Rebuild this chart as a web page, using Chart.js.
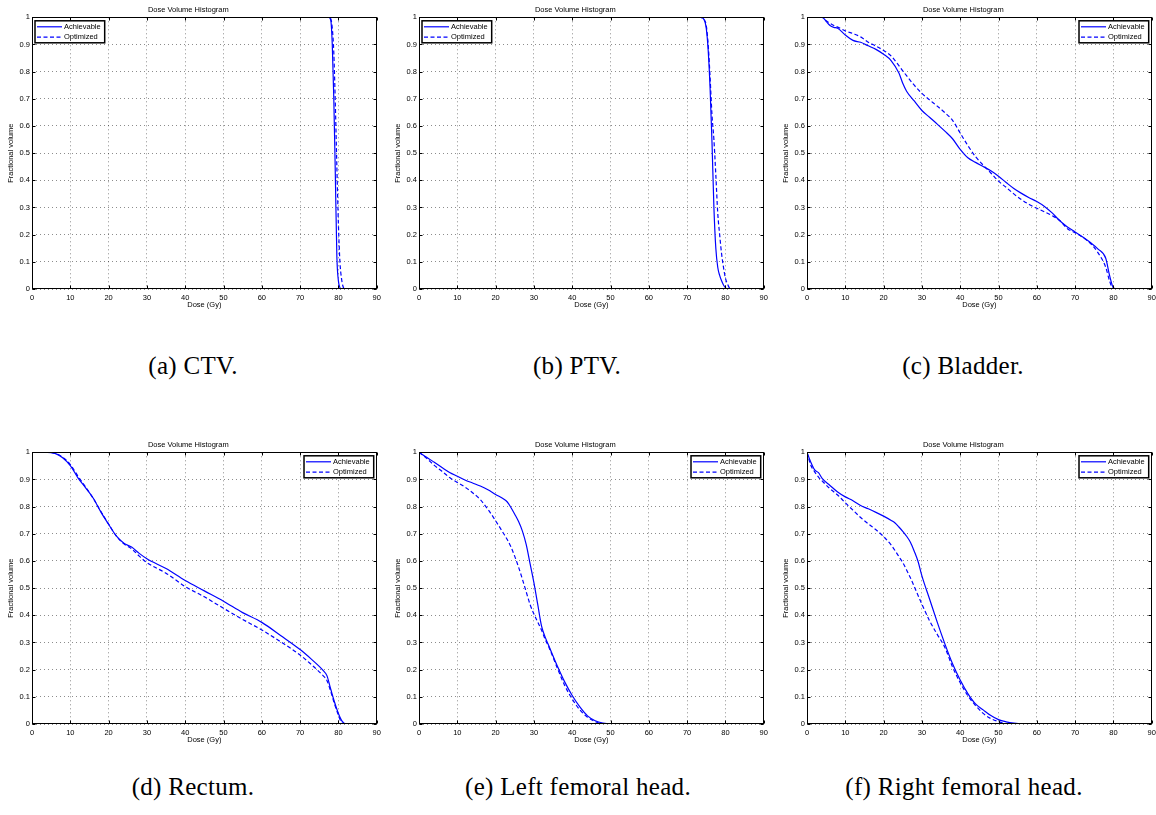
<!DOCTYPE html>
<html>
<head>
<meta charset="utf-8">
<script src="https://cdn.jsdelivr.net/npm/chart.js@4.4.0/dist/chart.umd.min.js"></script>
<style>
  body { margin: 0; background: #fff; width: 1156px; height: 815px; overflow: hidden; position: relative; }
  canvas { position: absolute; }
  .cap { position: absolute; width: 386px; text-align: center; font-family: "Liberation Serif", serif; font-size: 25px; letter-spacing: 0.3px; line-height: 28px; color: #000; }
</style>
</head>
<body>
<canvas id="ctv" width="381" height="310" style="left:0;top:0"></canvas>
<canvas id="ptv" width="381" height="310" style="left:387px;top:0"></canvas>
<canvas id="bladder" width="381" height="310" style="left:775px;top:0"></canvas>
<canvas id="rectum" width="381" height="310" style="left:0;top:435px"></canvas>
<canvas id="leftfem" width="381" height="310" style="left:387px;top:435px"></canvas>
<canvas id="rightfem" width="381" height="310" style="left:775px;top:435px"></canvas>

<div class="cap" style="left:0;top:352px">(a) CTV.</div>
<div class="cap" style="left:384px;top:352px">(b) PTV.</div>
<div class="cap" style="left:770px;top:352px">(c) Bladder.</div>
<div class="cap" style="left:0;top:773px">(d) Rectum.</div>
<div class="cap" style="left:385px;top:773px">(e) Left femoral head.</div>
<div class="cap" style="left:771px;top:773px">(f) Right femoral head.</div>

<script>
const doseTicks = [0, 10, 20, 30, 40, 50, 60, 70, 80, 90];
const volumeTicks = [0, 0.1, 0.2, 0.3, 0.4, 0.5, 0.6, 0.7, 0.8, 0.9, 1];
const seriesNames = ['Achievable', 'Optimized'];

// (a) CTV
const ctvDose = [0, 77.5, 78, 78.4, 78.8, 79.2, 79.6, 80, 80.4, 80.8, 81.2, 81.6, 82, 85];
const ctvAchievable = [1, 1, 0.99, 0.9, 0.7, 0.42, 0.12, 0.03, 0.005, 0, 0, 0, 0, 0];
const ctvOptimized = [1, 1, 0.995, 0.96, 0.87, 0.68, 0.45, 0.24, 0.1, 0.04, 0.01, 0, 0, 0];

// (b) PTV
const ptvDose = [0, 73.5, 74.5, 75, 75.5, 76, 76.5, 77, 77.5, 78, 78.5, 79, 79.5, 80, 80.5, 81, 81.5, 85];
const ptvAchievable = [1, 1, 0.99, 0.96, 0.88, 0.74, 0.54, 0.3, 0.15, 0.08, 0.05, 0.03, 0.015, 0.005, 0, 0, 0, 0];
const ptvOptimized = [1, 1, 0.99, 0.97, 0.9, 0.78, 0.64, 0.55, 0.42, 0.28, 0.2, 0.13, 0.08, 0.04, 0.02, 0.005, 0, 0];

// (c) Bladder
const bladderDose = [0, 4, 5, 6, 7, 8, 10, 12, 14, 16, 18, 20, 22, 24, 25, 26, 28, 30, 32, 34, 36, 38, 40, 42, 44, 46, 48, 50, 52, 54, 56, 58, 60, 62, 64, 66, 68, 70, 72, 74, 76, 78, 79, 80, 81, 85];
const bladderAchievable = [1, 1, 0.985, 0.97, 0.963, 0.96, 0.935, 0.915, 0.908, 0.895, 0.882, 0.864, 0.84, 0.795, 0.757, 0.728, 0.692, 0.657, 0.632, 0.607, 0.581, 0.553, 0.514, 0.483, 0.466, 0.451, 0.435, 0.415, 0.392, 0.37, 0.352, 0.336, 0.322, 0.304, 0.28, 0.251, 0.228, 0.21, 0.191, 0.171, 0.147, 0.113, 0.05, 0.005, 0, 0];
const bladderOptimized = [1, 1, 0.987, 0.978, 0.97, 0.964, 0.95, 0.94, 0.928, 0.908, 0.894, 0.878, 0.857, 0.822, 0.803, 0.785, 0.75, 0.72, 0.696, 0.673, 0.649, 0.621, 0.574, 0.528, 0.487, 0.456, 0.427, 0.397, 0.374, 0.35, 0.329, 0.311, 0.297, 0.284, 0.27, 0.252, 0.222, 0.207, 0.19, 0.168, 0.133, 0.08, 0.03, 0, 0, 0];

// (d) Rectum
const rectumDose = [0, 4, 6, 8, 10, 12, 14, 16, 18, 20, 22, 24, 26, 28, 30, 35, 40, 45, 50, 55, 60, 65, 70, 73, 75, 76, 77, 78, 79, 80, 81, 82, 85];
const rectumAchievable = [1, 1, 0.996, 0.98, 0.951, 0.906, 0.869, 0.831, 0.78, 0.735, 0.692, 0.665, 0.651, 0.628, 0.608, 0.572, 0.528, 0.49, 0.452, 0.41, 0.374, 0.325, 0.274, 0.238, 0.212, 0.197, 0.178, 0.128, 0.08, 0.039, 0.01, 0, 0];
const rectumOptimized = [1, 1, 0.996, 0.982, 0.955, 0.912, 0.872, 0.83, 0.782, 0.736, 0.692, 0.663, 0.645, 0.618, 0.594, 0.555, 0.506, 0.468, 0.426, 0.385, 0.346, 0.302, 0.254, 0.218, 0.192, 0.178, 0.16, 0.12, 0.073, 0.033, 0.002, 0, 0];

// (e) Left femoral head
const leftDose = [0, 2, 4, 6, 8, 10, 12, 14, 16, 18, 20, 22, 23, 24, 25, 26, 27, 28, 29, 30, 31, 32, 33, 34, 36, 38, 40, 42, 44, 46, 48, 50, 85];
const leftAchievable = [1, 0.982, 0.963, 0.944, 0.926, 0.912, 0.898, 0.887, 0.876, 0.862, 0.845, 0.829, 0.818, 0.797, 0.772, 0.745, 0.71, 0.66, 0.59, 0.52, 0.44, 0.36, 0.318, 0.284, 0.217, 0.156, 0.105, 0.063, 0.03, 0.012, 0.003, 0, 0];
const leftOptimized = [1, 0.978, 0.952, 0.93, 0.907, 0.889, 0.872, 0.851, 0.826, 0.79, 0.748, 0.703, 0.68, 0.652, 0.617, 0.577, 0.533, 0.486, 0.44, 0.405, 0.375, 0.345, 0.31, 0.28, 0.21, 0.143, 0.092, 0.052, 0.025, 0.009, 0, 0, 0];

// (f) Right femoral head
const rightDose = [0, 1, 2, 3, 4, 6, 8, 10, 12, 14, 16, 18, 20, 22, 23, 24, 25, 26, 27, 28, 29, 30, 32, 34, 36, 38, 40, 42, 44, 46, 48, 50, 52, 54, 56, 85];
const rightAchievable = [1, 0.963, 0.935, 0.925, 0.903, 0.878, 0.854, 0.836, 0.822, 0.804, 0.792, 0.779, 0.765, 0.749, 0.74, 0.725, 0.709, 0.691, 0.669, 0.636, 0.598, 0.545, 0.46, 0.375, 0.295, 0.222, 0.162, 0.112, 0.074, 0.052, 0.031, 0.016, 0.008, 0.003, 0.0005, 0];
const rightOptimized = [1, 0.952, 0.928, 0.909, 0.894, 0.866, 0.843, 0.814, 0.787, 0.76, 0.737, 0.715, 0.69, 0.658, 0.638, 0.616, 0.594, 0.567, 0.538, 0.506, 0.473, 0.441, 0.38, 0.33, 0.282, 0.21, 0.152, 0.104, 0.068, 0.039, 0.02, 0.009, 0.001, 0, 0, 0];

const FONT = '"Liberation Sans", Arial, sans-serif';
const BLUE = '#0000ff';

// black box round the axes, with inward ticks on all four sides
const axesFrame = {
  id: 'axesFrame',
  afterDraw(chart) {
    const { ctx, chartArea: a, scales: { x, y } } = chart;
    const l = Math.round(a.left) + 0.5, r = Math.round(a.right) - 0.5;
    const t = Math.round(a.top) + 0.5, b = Math.round(a.bottom) - 0.5;
    ctx.save();
    ctx.strokeStyle = '#000';
    ctx.lineWidth = 1;
    ctx.strokeRect(l, t, r - l, b - t);
    ctx.beginPath();
    for (const v of doseTicks) {
      const px = Math.round(x.getPixelForValue(v)) + 0.5;
      ctx.moveTo(px, b); ctx.lineTo(px, b - 3);
      ctx.moveTo(px, t); ctx.lineTo(px, t + 3);
    }
    for (const v of volumeTicks) {
      const py = Math.round(y.getPixelForValue(v)) + 0.5;
      ctx.moveTo(l, py); ctx.lineTo(l + 3, py);
      ctx.moveTo(r, py); ctx.lineTo(r - 3, py);
    }
    ctx.stroke();
    ctx.restore();
  }
};

// MATLAB style legend box inside the axes
const boxLegend = {
  id: 'boxLegend',
  afterDraw(chart, args, opts) {
    const { ctx, chartArea: a } = chart;
    const sets = chart.data.datasets;
    ctx.save();
    ctx.font = '7.5px ' + FONT;
    const tw = Math.max(...sets.map(d => ctx.measureText(d.label).width));
    const w = 2 + 25 + 2 + tw + 4, h = 22;
    const bx = opts.corner === 'left' ? a.left + 3 : a.right - 3 - w;
    const by = a.top + 3.5;
    ctx.fillStyle = '#fff';
    ctx.fillRect(bx, by, w, h);
    ctx.strokeStyle = '#000';
    ctx.lineWidth = 1.5;
    ctx.strokeRect(bx, by, w, h);
    sets.forEach((d, i) => {
      const yy = by + 6 + i * 10.3;
      ctx.strokeStyle = d.borderColor;
      ctx.lineWidth = d.borderWidth;
      ctx.setLineDash(d.borderDash || []);
      ctx.beginPath();
      ctx.moveTo(bx + 2, yy);
      ctx.lineTo(bx + 27, yy);
      ctx.stroke();
      ctx.setLineDash([]);
      ctx.fillStyle = '#000';
      ctx.textBaseline = 'middle';
      ctx.fillText(d.label, bx + 29, yy);
    });
    ctx.restore();
  }
};

function makeChart(id, dose, achievable, optimized, corner) {
  const pts = vals => dose.map((d, i) => ({ x: d, y: vals[i] }));
  return new Chart(document.getElementById(id), {
    type: 'line',
    data: {
      datasets: [
        { label: seriesNames[0], data: pts(achievable), borderColor: BLUE, borderWidth: 1.2, pointRadius: 0, cubicInterpolationMode: 'monotone' },
        { label: seriesNames[1], data: pts(optimized), borderColor: BLUE, borderWidth: 1.2, borderDash: [4, 2.5], pointRadius: 0, cubicInterpolationMode: 'monotone' }
      ]
    },
    options: {
      responsive: false,
      animation: false,
      layout: { padding: { left: 0, right: 4.3, top: 0, bottom: 0 } },
      plugins: {
        legend: { display: false },
        tooltip: { enabled: false },
        title: {
          display: true,
          text: 'Dose Volume Histogram',
          color: '#000',
          font: { family: FONT, size: 7.5, weight: 'normal' },
          padding: { top: 5, bottom: 3.3 }
        },
        boxLegend: { corner: corner }
      },
      scales: {
        x: {
          type: 'linear',
          min: 0, max: 90,
          afterBuildTicks: s => { s.ticks = doseTicks.map(v => ({ value: v })); },
          afterFit: s => { s.height = 21; s.paddingLeft = 0; s.paddingRight = 0; },
          grid: { color: 'rgba(0,0,0,0.45)', drawTicks: false, lineWidth: 1 },
          border: { display: false, dash: [1, 3] },
          ticks: { color: '#000', font: { family: FONT, size: 7.5 }, padding: 4, maxRotation: 0, callback: v => String(v) },
          title: { display: true, text: 'Dose (Gy)', color: '#000', font: { family: FONT, size: 7.5 }, padding: { top: 0, bottom: 0.5 } }
        },
        y: {
          type: 'linear',
          min: 0, max: 1,
          afterBuildTicks: s => { s.ticks = volumeTicks.map(v => ({ value: v })); },
          afterFit: s => { s.width = 32; s.paddingTop = 0; s.paddingBottom = 0; },
          grid: { color: 'rgba(0,0,0,0.45)', drawTicks: false, lineWidth: 1 },
          border: { display: false, dash: [1, 3] },
          ticks: { color: '#000', font: { family: FONT, size: 7.5 }, padding: 2, callback: v => String(v) },
          title: { display: true, text: 'Fractional volume', color: '#000', font: { family: FONT, size: 7.5 }, padding: { top: 6.5, bottom: 0 } }
        }
      }
    },
    plugins: [axesFrame, boxLegend]
  });
}

makeChart('ctv', ctvDose, ctvAchievable, ctvOptimized, 'left');
makeChart('ptv', ptvDose, ptvAchievable, ptvOptimized, 'left');
makeChart('bladder', bladderDose, bladderAchievable, bladderOptimized, 'right');
makeChart('rectum', rectumDose, rectumAchievable, rectumOptimized, 'right');
makeChart('leftfem', leftDose, leftAchievable, leftOptimized, 'right');
makeChart('rightfem', rightDose, rightAchievable, rightOptimized, 'right');
</script>
</body>
</html>
